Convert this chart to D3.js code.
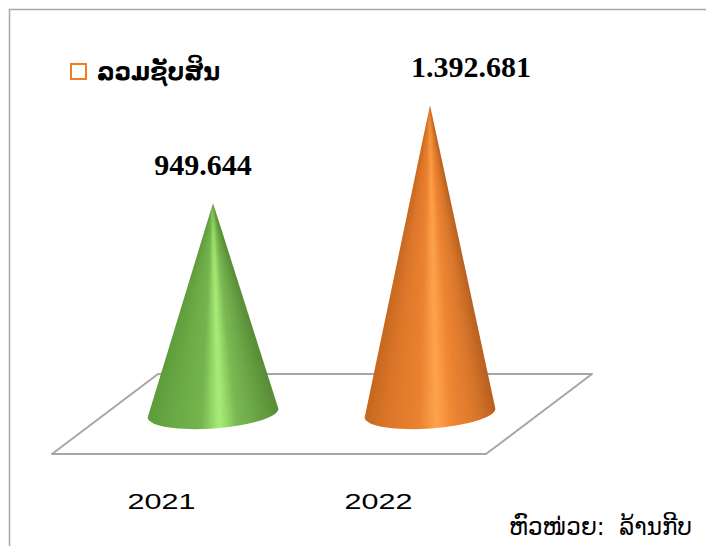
<!DOCTYPE html>
<html>
<head>
<meta charset="utf-8">
<script src="https://d3js.org/d3.v7.min.js"></script>
<style>
  html, body { margin: 0; padding: 0; background: #fff; overflow: hidden; }
  .tick text { font-family: "Liberation Sans", sans-serif; }
</style>
</head>
<body>
<div id="my_dataviz"></div>
<script>
// chart data
var years = ["2021", "2022"];
var values = [949644, 1392681];
var valueLabels = ["949.644", "1.392.681"];
var legendLabel = "ລວມຊັບສິນ";
var unitLabel = "ຫົວໜ່ວຍ:  ລ້ານກີບ";

var width = 706, height = 546;

var svg = d3.select("#my_dataviz")
    .append("svg")
    .attr("width", width)
    .attr("height", height)
    .style("display", "block");

var defs = svg.append("defs");

// softens the fan of wedges so no banding shows
defs.append("filter")
    .attr("id", "soften")
    .attr("filterUnits", "userSpaceOnUse")
    .attr("x", 0).attr("y", 0)
    .attr("width", width).attr("height", height)
    .append("feGaussianBlur")
    .attr("stdDeviation", 1);

// shading across each cone, dark at the edges with a narrow highlight
var shades = [
    ["#5c9a38", "#68a843", "#74b44c", "#a9ee78", "#7ab750", "#66a142", "#578c35"],
    ["#c4651d", "#dd7629", "#e9812f", "#ffa34c", "#ee8430", "#d9762a", "#b9601f"]
];
var stops = [0, 0.2, 0.42, 0.55, 0.68, 0.85, 1];

// front edge of the floor carries the categories
var x = d3.scaleBand().domain(years).range([52, 486]);
var y = d3.scaleLinear().domain([0, 1392681]).range([413, 105]);

var depthX = 52.5;   // cones stand further back on the floor
var floorBack = 374, floorFront = 454, floorShift = 106;
var baseRx = 65.5, baseRy = 15.5, baseTilt = -4;

// outer frame, open on the right and bottom
svg.append("path")
    .attr("d", "M9.5," + height + "V9.5H" + width)
    .attr("fill", "none")
    .attr("stroke", "#a6a6a6")
    .attr("stroke-width", 1.5);

// floor
svg.append("path")
    .attr("d", "M" + x.range()[0] + "," + floorFront +
        "L" + (x.range()[0] + floorShift) + "," + floorBack +
        "L" + (x.range()[1] + floorShift) + "," + floorBack +
        "L" + x.range()[1] + "," + floorFront + "Z")
    .attr("fill", "none")
    .attr("stroke", "#a6a6a6")
    .attr("stroke-width", 2)
    .attr("stroke-linejoin", "round");

// cones
function coneX(i) {
    return x(years[i]) + x.bandwidth() / 2 + depthX;
}

function conePath(d, i) {
    var cx = coneX(i);
    var a = baseTilt * Math.PI / 180;
    var dx = baseRx * Math.cos(a), dy = baseRx * Math.sin(a);
    return "M" + cx + "," + y(d) +
        "L" + (cx - dx) + "," + (y(0) - dy) +
        "A" + baseRx + "," + baseRy + " " + baseTilt + " 1 0 " + (cx + dx) + "," + (y(0) + dy) +
        "Z";
}

values.forEach(function (d, i) {
    defs.append("clipPath")
        .attr("id", "coneClip" + i)
        .append("path")
        .attr("d", conePath(d, i));

    var colour = d3.scaleLinear().domain(stops).range(shades[i]).clamp(true);
    var apexX = coneX(i), apexY = y(d);
    var g = svg.append("g")
        .attr("class", "cone")
        .attr("clip-path", "url(#coneClip" + i + ")")
        .append("g")
        .attr("filter", "url(#soften)");

    // wedges fanning out of the apex give the conical shading,
    // u runs from -over to +over across the width at base level
    var over = 1.3, n = 60;
    d3.range(n).forEach(function (k) {
        var u0 = (k / n * 2 - 1) * over;
        var u1 = ((k + 1) / n * 2 - 1) * over;
        var yb = apexY + (y(0) - apexY) * over;
        var c = colour(((u0 + u1) / 2 + 1) / 2);
        g.append("path")
            .attr("d", "M" + apexX + "," + apexY +
                "L" + (apexX + u0 * baseRx * over) + "," + yb +
                "L" + (apexX + u1 * baseRx * over) + "," + yb + "Z")
            .attr("fill", c)
            .attr("stroke", c)
            .attr("stroke-width", 0.8);
    });
});

// value labels
var labelPos = [[203, 175], [471, 77]];
svg.selectAll(".value")
    .data(valueLabels)
    .enter()
    .append("text")
    .attr("class", "value")
    .attr("x", function (d, i) { return labelPos[i][0]; })
    .attr("y", function (d, i) { return labelPos[i][1]; })
    .attr("text-anchor", "middle")
    .style("font-family", "'Liberation Serif', serif")
    .style("font-weight", "bold")
    .style("font-size", "30px")
    .attr("fill", "#000")
    .text(function (d) { return d; });

// category axis
var axis = svg.append("g")
    .attr("transform", "translate(0,488)")
    .call(d3.axisBottom(x).tickSize(0).tickPadding(5));
axis.select(".domain").remove();
axis.selectAll("text")
    .style("font-size", "22px")
    .attr("fill", "#000")
    .attr("x", 1)
    .attr("textLength", 68)
    .attr("lengthAdjust", "spacingAndGlyphs");

// legend
svg.append("rect")
    .attr("x", 71).attr("y", 64)
    .attr("width", 15).attr("height", 15)
    .attr("fill", "none")
    .attr("stroke", "#f27a24")
    .attr("stroke-width", 2);
svg.append("text")
    .attr("x", 97).attr("y", 80)
    .style("font-family", "'DejaVu Sans', sans-serif")
    .style("font-weight", "bold")
    .style("font-size", "25px")
    .attr("textLength", 123)
    .attr("lengthAdjust", "spacingAndGlyphs")
    .attr("fill", "#000")
    .text(legendLabel);

// unit note
svg.append("text")
    .attr("x", 509).attr("y", 535)
    .style("font-family", "'DejaVu Sans', sans-serif")
    .style("font-size", "25px")
    .style("white-space", "pre")
    .attr("xml:space", "preserve")
    .attr("textLength", 183)
    .attr("lengthAdjust", "spacingAndGlyphs")
    .attr("fill", "#000")
    .text(unitLabel);
</script>
</body>
</html>
